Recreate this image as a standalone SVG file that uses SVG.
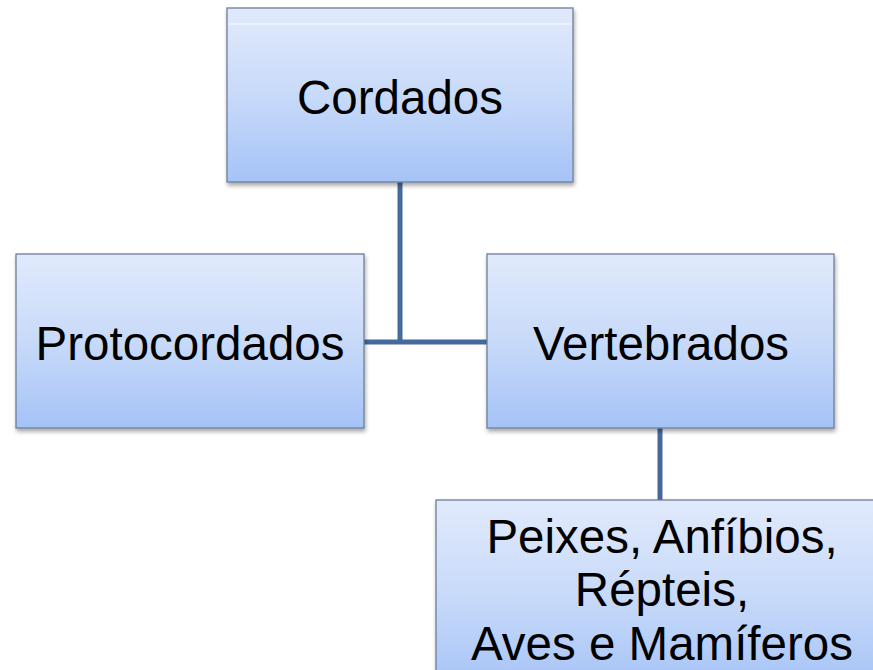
<svg xmlns="http://www.w3.org/2000/svg" width="873" height="670" viewBox="0 0 873 670">
<defs>
<linearGradient id="g" x1="0" y1="0" x2="0" y2="1">
<stop offset="0" stop-color="#e1eafc"/>
<stop offset="0.5" stop-color="#c8daf9"/>
<stop offset="1" stop-color="#a5c3f7"/>
</linearGradient>
<filter id="sh" x="-5%" y="-5%" width="110%" height="115%">
<feGaussianBlur in="SourceAlpha" stdDeviation="2"/>
<feOffset dx="1" dy="3"/>
<feComponentTransfer><feFuncA type="linear" slope="0.35"/></feComponentTransfer>
<feMerge><feMergeNode/><feMergeNode in="SourceGraphic"/></feMerge>
</filter>
</defs>
<style>
.box{fill:url(#g);stroke:#6d7f99;stroke-width:1.3;filter:url(#sh)}
.t{font-family:"Liberation Sans",Arial,sans-serif;font-size:47.5px;fill:#000;text-anchor:middle}
.c{stroke:#44699c;stroke-width:5;fill:none}
</style>
<rect width="873" height="670" fill="#fff"/>
<g id="connectors">
<polyline class="c" points="400,182 400,342"/>
<line class="c" x1="364" y1="342" x2="487" y2="342"/>
<line class="c" x1="660" y1="428" x2="660" y2="500"/>
</g>
<g id="cordados">
<rect class="box" x="227" y="8" width="346" height="174"/>
<line x1="228" y1="24" x2="572" y2="24" stroke="#fff" stroke-width="1" opacity="0.8"/>
<text class="t" x="400" y="114">Cordados</text>
</g>
<g id="protocordados">
<rect class="box" x="16" y="254" width="348" height="174"/>
<text class="t" x="190" y="360">Protocordados</text>
</g>
<g id="vertebrados">
<rect class="box" x="487" y="254" width="347" height="174"/>
<text class="t" x="661" y="360">Vertebrados</text>
</g>
<g id="grupos">
<rect class="box" x="436" y="500" width="445" height="190"/>
<text class="t" x="662" y="553">Peixes, Anfíbios,</text>
<text class="t" x="662" y="606">Répteis,</text>
<text class="t" x="662" y="660">Aves e Mamíferos</text>
</g>
</svg>
